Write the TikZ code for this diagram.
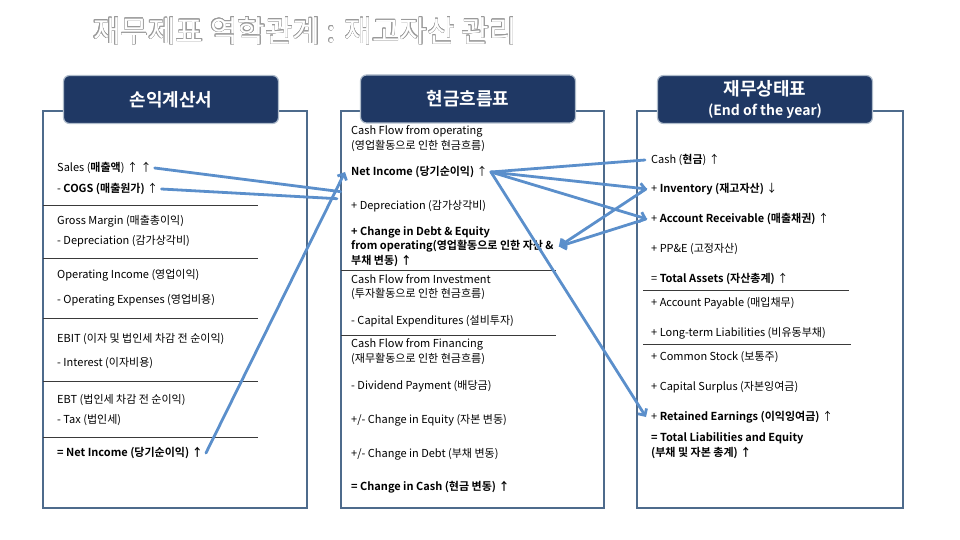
\documentclass[tikz,border=0pt]{standalone}
\usepackage{fontspec}
\setmainfont{Noto Sans CJK KR}[BoldFont={Noto Sans CJK KR Bold}]
\usepackage[copies]{contour}
\usetikzlibrary{arrows.meta,positioning,calc}
\definecolor{navy}{HTML}{1F3864}
\definecolor{frame}{HTML}{4E6B8C}
\definecolor{linkblue}{HTML}{5B8FCB}
\definecolor{rulegray}{HTML}{3A3A3A}
\definecolor{titlegray}{HTML}{9A9A9A}
\tikzset{
  header/.style={draw=frame!45,fill=navy,line width=1.2pt,rounded corners=6pt,
                 text=white,align=center,minimum width=215pt,minimum height=48pt,
                 font=\fontsize{18}{20}\selectfont\bfseries},
  panel/.style={draw=frame,line width=1.6pt},
  item/.style={anchor=west,inner sep=0pt,align=left,
               font=\fontsize{11}{14.5}\selectfont},
  bolditem/.style={item,font=\fontsize{11}{14.5}\selectfont\bfseries},
  sep/.style={draw=rulegray,line width=0.8pt},
  link/.style={draw=linkblue,line width=2.8pt,line cap=round,
               -{Straight Barb[length=5pt,width=10pt]}},
  plainlink/.style={draw=linkblue,line width=2.8pt,line cap=round}
}
\contourlength{0.35pt}
\begin{document}
\begin{tikzpicture}[x=1pt,y=-1pt]
  \useasboundingbox (0,0) rectangle (960,540);

  \node[font=\fontsize{30}{34}\selectfont,text=white] (title) at (305,31)
    {\contour{titlegray}{재무제표 역학관계 : 재고자산 관리}};

  % panels
  \draw[panel] (43,111) rectangle (307,508);
  \draw[panel] (341,111) rectangle (604,508);
  \draw[panel] (637,111) rectangle (903,508);

  \node[header] (hIS) at (171,99.5) {손익계산서};
  \node[header] (hCF) at (468,99) {현금흐름표};
  \node[header,font=\fontsize{18}{20}\selectfont\bfseries] (hBS) at (765,99.5)
    {재무상태표\\{\fontsize{14}{16}\selectfont (End of the year)}};

  % income statement
  \node[item] (sales) at (57,168) {Sales (\textbf{매출액}) ↑ ↑};
  \node[item] (cogs) at (57,189) {- \textbf{COGS (매출원가)} ↑};
  \draw[sep] (43,205) -- (258,205);
  \node[item] (gm) at (57,221) {Gross Margin (매출총이익)};
  \node[item] (dep) at (57,241) {- Depreciation (감가상각비)};
  \draw[sep] (43,258) -- (258,258);
  \node[item] (oi) at (57,275) {Operating Income (영업이익)};
  \node[item] (opex) at (57,300) {- Operating Expenses (영업비용)};
  \draw[sep] (43,318) -- (258,318);
  \node[item] (ebit) at (57,339) {EBIT (이자 및 법인세 차감 전 순이익)};
  \node[item] (int) at (57,363) {- Interest (이자비용)};
  \draw[sep] (43,381) -- (258,381);
  \node[item] (ebt) at (57,400) {EBT (법인세 차감 전 순이익)};
  \node[item] (tax) at (57,420) {- Tax (법인세)};
  \draw[sep] (43,437) -- (258,437);
  \node[bolditem] (ni) at (57,453) {= Net Income (당기순이익) ↑};

  % cash flow statement
  \node[item] (cfo) at (351,138.5)
    {Cash Flow from operating\\(영업활동으로 인한 현금흐름)};
  \node[item] (nim) at (351,172) {\textbf{Net Income (당기순이익)} ↑};
  \node[item] (depm) at (351,206) {+ Depreciation (감가상각비)};
  \node[bolditem] (chg) at (351,246.5)
    {+ Change in Debt \& Equity\\from operating(영업활동으로 인한 자산 \&\\부채 변동) ↑};
  \draw[sep] (341,270) -- (556,270);
  \node[item] (cfi) at (351,287)
    {Cash Flow from Investment\\(투자활동으로 인한 현금흐름)};
  \node[item] (capex) at (351,321) {- Capital Expenditures (설비투자)};
  \draw[sep] (341,335) -- (556,335);
  \node[item] (cff) at (351,351.5)
    {Cash Flow from Financing\\(재무활동으로 인한 현금흐름)};
  \node[item] (div) at (351,386) {- Dividend Payment (배당금)};
  \node[item] (eq) at (351,420) {+/- Change in Equity (자본 변동)};
  \node[item] (debt) at (351,454) {+/- Change in Debt (부채 변동)};
  \node[bolditem] (dcash) at (351,487) {= Change in Cash (현금 변동) ↑};

  % balance sheet
  \node[item] (cash) at (651,160) {Cash (\textbf{현금}) ↑};
  \node[item] (inv) at (651,189) {+ \textbf{Inventory (재고자산)} ↓};
  \node[item] (ar) at (651,219) {+ \textbf{Account Receivable (매출채권)} ↑};
  \node[item] (ppe) at (651,249) {+ PP\&E (고정자산)};
  \node[item] (ta) at (651,279) {= \textbf{Total Assets (자산총계)} ↑};
  \draw[sep] (643,290) -- (849,290);
  \node[item] (ap) at (651,303) {+ Account Payable (매입채무)};
  \node[item] (ltl) at (651,333) {+ Long-term Liabilities (비유동부채)};
  \draw[sep] (643,344) -- (851,344);
  \node[item] (cs) at (651,357) {+ Common Stock (보통주)};
  \node[item] (csur) at (651,387) {+ Capital Surplus (자본잉여금)};
  \node[item] (re) at (651,417) {+ \textbf{Retained Earnings (이익잉여금)} ↑};
  \node[bolditem] (tle) at (651,445.5)
    {= Total Liabilities and Equity\\(부채 및 자본 총계) ↑};

  % links
  \coordinate (salesend) at ($(ni.east)!0.93!(nim.west)$);
  \coordinate (cogsend) at ($(ni.east)!0.905!(nim.west)$);
  \draw[plainlink] ([xshift=3pt]sales.east) -- (salesend);
  \draw[plainlink] ([xshift=3pt]cogs.east) -- (cogsend);
  \draw[link] ([xshift=3pt]ni.east) -- ([xshift=-6pt]nim.west);
  \draw[plainlink] ([xshift=3pt]nim.east) -- ([xshift=-6pt]cash.west);
  \draw[link] ([xshift=3pt]nim.east) -- ([xshift=-4pt]inv.west);
  \draw[link] ([xshift=3pt]nim.east) -- ([xshift=-4pt]ar.west);
  \draw[link] ([xshift=3pt]nim.east) -- ([xshift=-5pt]re.west);
  \draw[link] ([xshift=-5pt]inv.west) -- ([xshift=5pt]chg.east);
  \draw[link] ([xshift=-5pt]ar.west) -- ([xshift=5pt]chg.east);
\end{tikzpicture}
\end{document}
